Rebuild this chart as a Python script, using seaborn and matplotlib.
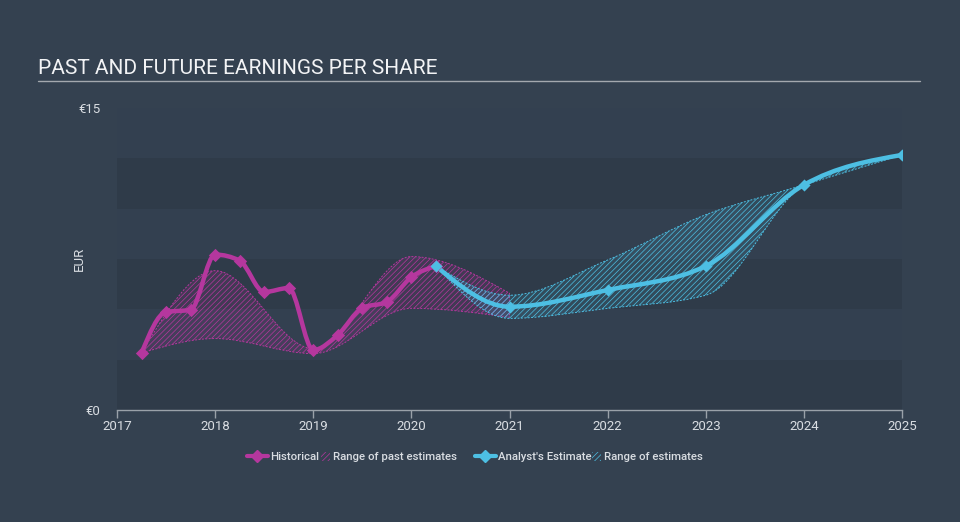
import numpy as np
import pandas as pd
import matplotlib
matplotlib.use("Agg")
import matplotlib.pyplot as plt
from matplotlib.path import Path
from matplotlib.patches import PathPatch, Patch
from matplotlib.lines import Line2D
import seaborn as sns

# ---- data ----
hist_year = [2017.25, 2017.5, 2017.75, 2018.0, 2018.25, 2018.5, 2018.75,
             2019.0, 2019.25, 2019.5, 2019.75, 2020.0, 2020.25]
hist_eps = [2.83, 4.87, 4.97, 7.72, 7.42, 5.86, 6.06,
            2.98, 3.73, 5.07, 5.37, 6.60, 7.15]

past_year = [2017.25, 2018.0, 2019.0, 2020.0, 2021.0]
past_low = [2.83, 3.55, 2.80, 5.05, 4.60]
past_high = [2.83, 6.92, 3.05, 7.62, 5.80]

fut_year = [2020.25, 2021.0, 2022.0, 2023.0, 2024.0, 2025.0]
fut_eps = [7.15, 5.13, 5.96, 7.15, 11.18, 12.67]
fut_low = [7.15, 4.55, 5.05, 5.70, 11.18, 12.67]
fut_high = [7.15, 5.70, 7.45, 9.70, 11.18, 12.67]

year_ticks = [2017, 2018, 2019, 2020, 2021, 2022, 2023, 2024, 2025]
eps_ticks = [0, 15]
eps_tick_labels = ["€0", "€15"]

BG = "#344150"
PLOT_BG = "#334050"
BAND = "#2f3b49"
MAGENTA = "#b5379e"
CYAN = "#4dbfe3"
TEXT = "#d9dde2"

sns.set_style("dark")
plt.rcParams["font.family"] = ["Roboto", "DejaVu Sans"]
plt.rcParams["hatch.linewidth"] = 0.5


def slopes(xs, ys):
    # monotone-x tangents (same rule d3's curveMonotoneX uses)
    x = np.asarray(xs, float)
    y = np.asarray(ys, float)
    h = np.diff(x)
    s = np.diff(y) / h
    m = np.zeros_like(y)
    for i in range(1, len(x) - 1):
        p = (s[i - 1] * h[i] + s[i] * h[i - 1]) / (h[i - 1] + h[i])
        m[i] = (np.sign(s[i - 1]) + np.sign(s[i])) * min(abs(s[i - 1]), abs(s[i]), 0.5 * abs(p))
    if len(x) > 2:
        m[0] = (3 * s[0] - m[1]) / 2
        m[-1] = (3 * s[-1] - m[-2]) / 2
    else:
        m[:] = s[0]
    return m


def bezier_verts(xs, ys):
    m = slopes(xs, ys)
    verts = [(xs[0], ys[0])]
    for i in range(len(xs) - 1):
        h = (xs[i + 1] - xs[i]) / 3
        verts += [(xs[i] + h, ys[i] + m[i] * h),
                  (xs[i + 1] - h, ys[i + 1] - m[i + 1] * h),
                  (xs[i + 1], ys[i + 1])]
    return verts


def curve_path(xs, ys):
    v = bezier_verts(xs, ys)
    codes = [Path.MOVETO] + [Path.CURVE4] * (len(v) - 1)
    return Path(v, codes)


def band_path(xs, lo, hi):
    up = bezier_verts(xs, hi)
    down = bezier_verts(xs, lo)[::-1]
    v = up + down + [up[0]]
    codes = ([Path.MOVETO] + [Path.CURVE4] * (len(up) - 1) + [Path.LINETO]
             + [Path.CURVE4] * (len(down) - 1) + [Path.CLOSEPOLY])
    return Path(v, codes)


fig = plt.figure(figsize=(9.6, 5.22), dpi=100, facecolor=BG)
ax = fig.add_axes([117 / 960, 1 - 410 / 522, 785 / 960, 302 / 522])
ax.set_facecolor(PLOT_BG)
for lo in (0, 5, 10):
    ax.axhspan(lo, lo + 2.5, color=BAND, lw=0, zorder=0)

# estimate ranges
ax.add_patch(PathPatch(band_path(past_year, past_low, past_high),
                       facecolor=(0.71, 0.22, 0.62, 0.14), edgecolor=MAGENTA,
                       hatch="//////", lw=0.7, ls=(0, (2, 1.5)), zorder=2))
ax.add_patch(PathPatch(band_path(fut_year, fut_low, fut_high),
                       facecolor=(0.30, 0.75, 0.89, 0.12), edgecolor=CYAN,
                       hatch="//////", lw=0.7, ls=(0, (2, 1.5)), zorder=2))

# lines
ax.add_patch(PathPatch(curve_path(hist_year, hist_eps), fill=False, edgecolor=MAGENTA,
                       lw=3.2, capstyle="round", joinstyle="round", zorder=4))
ax.add_patch(PathPatch(curve_path(fut_year, fut_eps), fill=False, edgecolor=CYAN,
                       lw=3.2, capstyle="round", joinstyle="round", zorder=4))

hist_df = pd.DataFrame({"year": hist_year, "eps": hist_eps})
fut_df = pd.DataFrame({"year": fut_year, "eps": fut_eps})
sns.scatterplot(data=hist_df, x="year", y="eps", ax=ax, marker="D", s=46,
                color=MAGENTA, edgecolor=MAGENTA, linewidth=0, zorder=5)
sns.scatterplot(data=fut_df, x="year", y="eps", ax=ax, marker="D", s=38,
                color=CYAN, edgecolor=CYAN, linewidth=0, zorder=5)

ax.set_xlim(2017, 2025)
ax.set_ylim(0, 15)
ax.set_xticks(year_ticks)
ax.set_xticklabels([str(y) for y in year_ticks])
ax.set_yticks(eps_ticks)
ax.set_yticklabels(eps_tick_labels)
ax.tick_params(axis="x", colors="#9aa1a9", labelcolor=TEXT, direction="out",
               length=6, width=1, pad=1, labelsize=9.5, bottom=True)
ax.tick_params(axis="y", length=0, pad=12, labelcolor=TEXT, labelsize=9.5)
ax.set_xlabel("")
ax.set_ylabel("EUR", color=TEXT, fontsize=9.5)
ax.yaxis.set_label_coords(-31 / 785, 0.5)
ax.grid(False)
for side in ("top", "right", "left"):
    ax.spines[side].set_visible(False)
ax.spines["bottom"].set_color("#9aa1a9")
ax.spines["bottom"].set_linewidth(1)

# title and rule
fig.text(38 / 960, 1 - 69 / 522, "PAST AND FUTURE EARNINGS PER SHARE",
         color="#f2f3f5", fontsize=15, va="center", ha="left")
fig.add_artist(Line2D([38 / 960, 920 / 960], [1 - 81 / 522, 1 - 81 / 522],
                      color="#a3a8ae", lw=1))

# legend: one entry per legend so each can sit where the reference puts it
legend_items = [
    (Line2D([], [], color=MAGENTA, lw=3, marker="D", ms=6), "Historical", 247, 1.8),
    (Patch(facecolor="none", edgecolor=MAGENTA, hatch="//////", lw=0), "Range of past estimates", 321, 0.8),
    (Line2D([], [], color=CYAN, lw=3, marker="D", ms=6), "Analyst's Estimate", 475, 1.8),
    (Patch(facecolor="none", edgecolor=CYAN, hatch="//////", lw=0), "Range of estimates", 592, 0.8),
]
for handle, label, xpix, hlen in legend_items:
    leg = fig.legend([handle], [label], loc="center left",
                     bbox_to_anchor=(xpix / 960, 1 - 457 / 522),
                     frameon=False, handlelength=hlen, handleheight=0.8,
                     handletextpad=0.25, borderpad=0, borderaxespad=0,
                     labelcolor=TEXT, prop={"weight": "medium", "size": 8.2})

fig.savefig("out.png", dpi=100, facecolor=BG)
